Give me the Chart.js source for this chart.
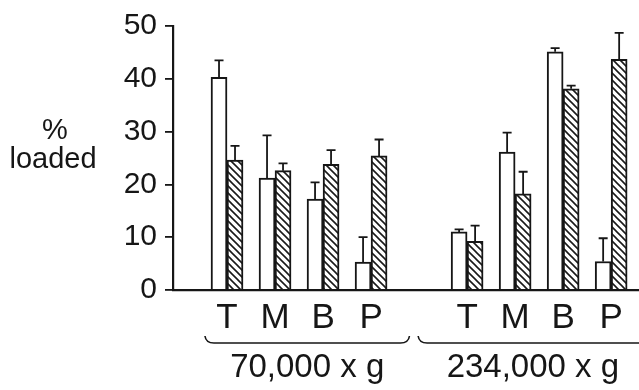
<!DOCTYPE html>
<html>
<head>
<meta charset="utf-8">
<script src="https://cdn.jsdelivr.net/npm/chart.js@4.4.0/dist/chart.umd.min.js"></script>
<style>
  body { margin: 0; background: #fff; }
  canvas { display: block; }
</style>
</head>
<body>
<canvas id="chart" width="639" height="390"></canvas>
<script>
// fractions per centrifugation speed
const fractions = ['T', 'M', 'B', 'P'];
const speeds = ['70,000 x g', '234,000 x g'];
const yTicks = [0, 10, 20, 30, 40, 50];

// 70,000 x g first, then 234,000 x g
const openValues = [40.3, 21.2, 17.2, 5.3, 11.0, 26.1, 45.1, 5.4];
const openErrors = [3.2, 8.1, 3.2, 4.7, 0.5, 3.7, 0.7, 4.4];
const hatchedValues = [24.6, 22.6, 23.8, 25.4, 9.2, 18.2, 38.1, 43.7];
const hatchedErrors = [2.7, 1.4, 2.7, 3.1, 3.0, 4.2, 0.6, 5.0];

const ink = '#161616';
const font = 'Liberation Sans, Arial, Helvetica, sans-serif';

// slot on the x axis: one empty slot between the two speeds
const slots = openValues.map((v, i) => i < fractions.length ? i : i + 1);
const tickLabels = slots.map((s, i) => fractions[i % fractions.length]);

const ctx = document.getElementById('chart').getContext('2d');

function hatchPattern() {
    const c = document.createElement('canvas');
    c.width = 7; c.height = 7;
    const g = c.getContext('2d');
    g.fillStyle = '#fff';
    g.fillRect(0, 0, 7, 7);
    g.strokeStyle = '#1a1a1a';
    g.lineWidth = 1.6;
    g.beginPath();
    g.moveTo(-1, -1); g.lineTo(8, 8);
    g.moveTo(-1, 6); g.lineTo(1, 8);
    g.moveTo(6, -1); g.lineTo(8, 1);
    g.stroke();
    return ctx.createPattern(c, 'repeat');
}

const errorBars = {
    id: 'errorBars',
    afterDatasetsDraw(chart) {
        const c = chart.ctx;
        const y = chart.scales.y;
        const errs = [openErrors, hatchedErrors];
        c.save();
        c.strokeStyle = ink;
        c.lineWidth = 1.8;
        chart.data.datasets.forEach((ds, d) => {
            chart.getDatasetMeta(d).data.forEach((bar, i) => {
                const top = y.getPixelForValue(ds.data[i].y + errs[d][i]);
                c.beginPath();
                c.moveTo(bar.x, bar.y);
                c.lineTo(bar.x, top);
                c.moveTo(bar.x - 4.5, top);
                c.lineTo(bar.x + 4.5, top);
                c.stroke();
            });
        });
        c.restore();
    }
};

const braces = {
    id: 'braces',
    afterDraw(chart) {
        const c = chart.ctx;
        const x = chart.scales.x;
        const spans = [[-0.46, 3.8], [3.98, 8.9]];
        const centers = [1.67, 6.37];
        const by = 343;
        c.save();
        c.strokeStyle = ink;
        c.lineWidth = 1.6;
        spans.forEach(s => {
            const a = x.getPixelForValue(s[0]);
            const b = x.getPixelForValue(s[1]);
            c.beginPath();
            c.moveTo(a, by - 7);
            c.quadraticCurveTo(a + 1, by, a + 9, by);
            c.lineTo(b - 9, by);
            c.quadraticCurveTo(b - 1, by, b, by - 7);
            c.stroke();
        });
        c.fillStyle = ink;
        c.textAlign = 'center';
        c.textBaseline = 'middle';
        c.font = '33px ' + font;
        speeds.forEach((s, i) => c.fillText(s, x.getPixelForValue(centers[i]), 368));
        // y axis label
        c.font = '29px ' + font;
        c.fillText('%', 55, 131);
        c.fillText('loaded', 53, 160);
        c.restore();
    }
};

new Chart(ctx, {
    type: 'bar',
    data: {
        datasets: [
            {
                label: 'open',
                data: slots.map((s, i) => ({ x: s, y: openValues[i] })),
                backgroundColor: '#fff',
                borderColor: ink,
                borderWidth: 2,
                barThickness: 16
            },
            {
                label: 'hatched',
                data: slots.map((s, i) => ({ x: s, y: hatchedValues[i] })),
                backgroundColor: hatchPattern(),
                borderColor: ink,
                borderWidth: 2,
                barThickness: 16
            }
        ]
    },
    options: {
        responsive: false,
        animation: false,
        layout: { padding: { top: 24, left: 0, right: 0, bottom: 0 } },
        plugins: {
            legend: { display: false },
            tooltip: { enabled: false }
        },
        scales: {
            x: {
                type: 'linear',
                offset: false,
                min: -1.125,
                max: 8.58,
                grid: { display: false },
                border: { color: ink, width: 2.2 },
                afterBuildTicks: axis => { axis.ticks = slots.map(v => ({ value: v })); },
                afterFit: axis => { axis.height = 100; },
                ticks: {
                    autoSkip: false,
                    maxRotation: 0,
                    padding: -1,
                    color: ink,
                    font: { family: font, size: 35 },
                    callback: (v, i) => tickLabels[i]
                }
            },
            y: {
                min: 0,
                max: 50,
                grid: { drawOnChartArea: false, tickLength: 8, color: ink, lineWidth: 1.8 },
                border: { color: ink, width: 2.2 },
                afterBuildTicks: axis => { axis.ticks = yTicks.map(v => ({ value: v })); },
                afterFit: axis => { axis.width = 173; },
                ticks: {
                    padding: 8,
                    color: ink,
                    font: { family: font, size: 30 }
                }
            }
        }
    },
    plugins: [errorBars, braces]
});
</script>
</body>
</html>
